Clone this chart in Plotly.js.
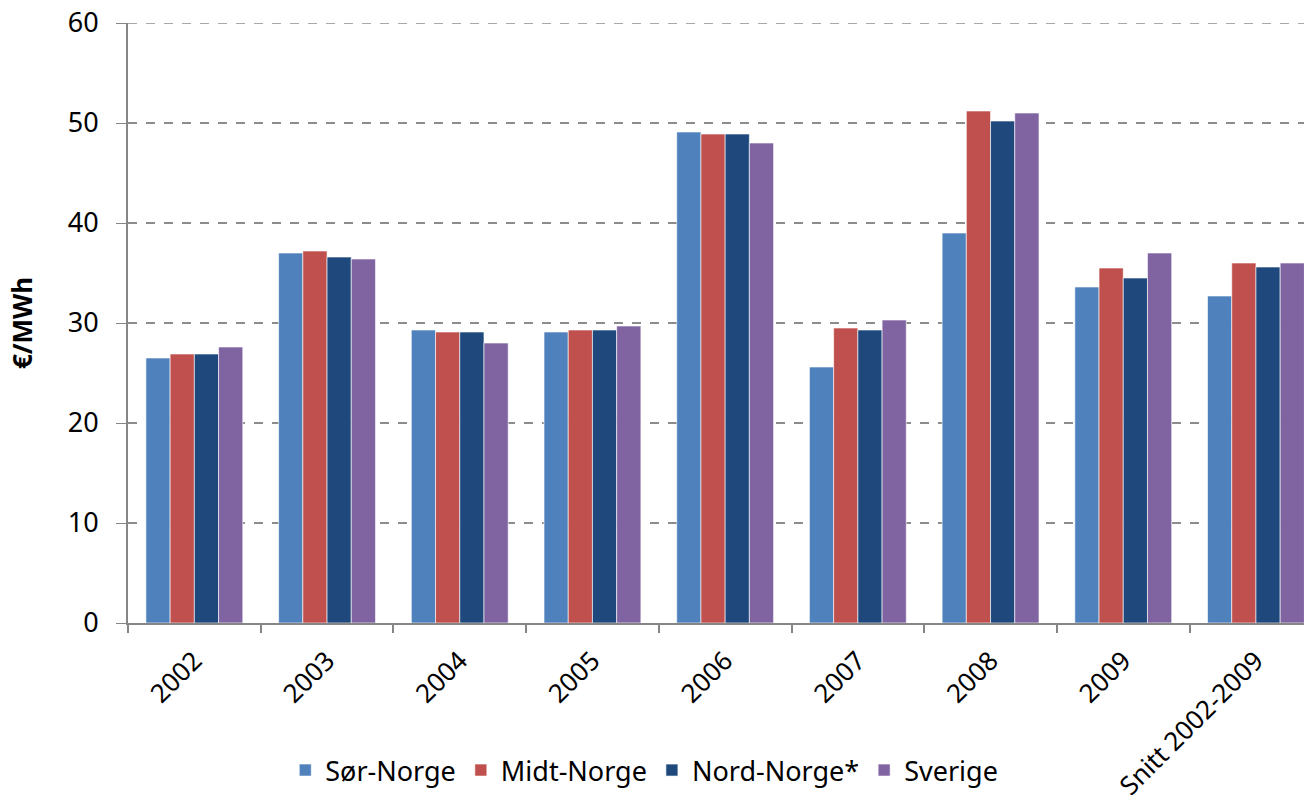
<!DOCTYPE html>
<html>
<head>
<meta charset="utf-8">
<script src="https://cdn.plot.ly/plotly-3.0.1.min.js"></script>
<style>html,body{margin:0;padding:0;background:#fff;}#chart{width:1304px;height:803px;}</style>
</head>
<body>
<div id="chart"></div>
<script>
const categories = ["2002","2003","2004","2005","2006","2007","2008","2009","Snitt 2002-2009"];
const sorNorge  = [26.5, 37.0, 29.3, 29.1, 49.1, 25.6, 39.0, 33.6, 32.7];
const midtNorge = [26.9, 37.2, 29.1, 29.3, 48.9, 29.5, 51.2, 35.5, 36.0];
const nordNorge = [26.9, 36.6, 29.1, 29.3, 48.9, 29.3, 50.2, 34.5, 35.6];
const sverige   = [27.6, 36.4, 28.0, 29.7, 48.0, 30.3, 51.0, 37.0, 36.0];
const seriesNames = ["Sør-Norge","Midt-Norge","Nord-Norge*","Sverige"];
const seriesColors = ["#4F81BD","#C0504D","#1F497D","#8064A2"];
const yTicks = [0,10,20,30,40,50,60];

const allValues = [sorNorge, midtNorge, nordNorge, sverige];
const traces = allValues.map((vals, i) => ({
  type: "bar",
  name: seriesNames[i],
  x: categories,
  y: vals,
  marker: {color: seriesColors[i], line: {color: "rgba(255,255,255,0.6)", width: 1}},
  hoverinfo: "x+y+name"
}));

const font = "Noto Sans, DejaVu Sans, sans-serif";
const yMax = yTicks[yTicks.length - 1];
const layout = {
  width: 1304, height: 803,
  margin: {l: 128, r: 0, t: 23, b: 180},
  paper_bgcolor: "#fff", plot_bgcolor: "#fff",
  barmode: "group",
  bargap: 0.27,
  bargroupgap: 0,
  showlegend: true,
  legend: {orientation: "h", x: 0.439, xanchor: "center", y: -0.205, yanchor: "top",
           font: {family: font, size: 27, color: "#000"}, traceorder: "normal",
           itemwidth: 30, tracegroupgap: 0},
  xaxis: {
    type: "category",
    range: [-0.5, 8.362],
    tickangle: -45,
    tickson: "boundaries",
    ticks: "outside", ticklen: 8, tickcolor: "#868686", tickwidth: 2,
    showline: true, linecolor: "#868686", linewidth: 2,
    showgrid: false,
    ticklabelstandoff: 10,
    tickfont: {family: font, size: 26, color: "#000"},
    fixedrange: true
  },
  yaxis: {
    range: [0, yMax],
    tickvals: yTicks,
    ticktext: yTicks.map(String),
    ticks: "outside", ticklen: 10, tickcolor: "#868686", tickwidth: 1,
    showline: true, linecolor: "#868686", linewidth: 2,
    showgrid: true, gridcolor: "#8c8c8c", griddash: "dash", gridwidth: 1.5,
    zeroline: false,
    ticklabelstandoff: 12,
    tickfont: {family: font, size: 27, color: "#000"},
    title: {text: "<b>€/MWh</b>", font: {family: font, size: 26, color: "#000"}, standoff: 28},
    fixedrange: true
  },
  shapes: [{
    type: "line", xref: "paper", yref: "y", x0: 0, x1: 1, y0: yMax, y1: yMax,
    line: {color: "#8c8c8c", width: 1.5, dash: "dash"}
  }]
};

Plotly.newPlot("chart", traces, layout, {displayModeBar: false, staticPlot: true});
</script>
</body>
</html>
